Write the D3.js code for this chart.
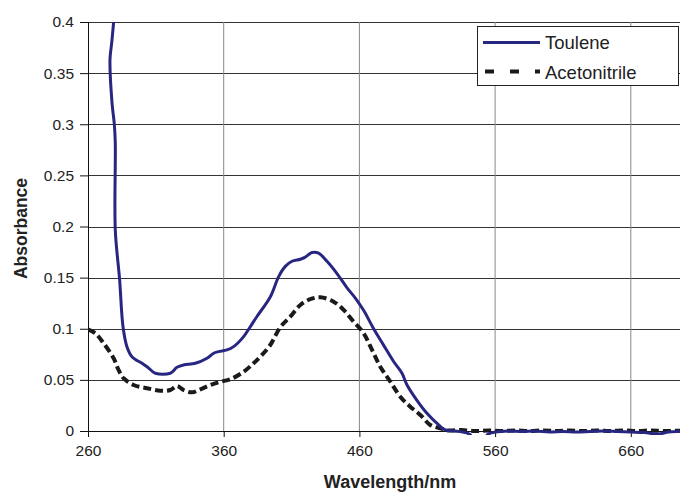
<!DOCTYPE html>
<html>
<head>
<meta charset="utf-8">
<script src="https://cdn.jsdelivr.net/npm/d3@7/dist/d3.min.js"></script>
<style>
  html, body { margin: 0; padding: 0; background: #fff; }
  svg { display: block; font-family: "Liberation Sans", Arial, sans-serif; }
</style>
</head>
<body>
<svg id="chart" width="680" height="493"></svg>
<script>
// Absorption spectra, wavelength (nm) vs absorbance
const seriesNames = ["Toulene", "Acetonitrile"];

const xTicks = [260, 360, 460, 560, 660];
const yTicks = [0, 0.05, 0.1, 0.15, 0.2, 0.25, 0.3, 0.35, 0.4];
const yTickLabels = ["0", "0.05", "0.1", "0.15", "0.2", "0.25", "0.3", "0.35", "0.4"];

const toluene = [
  [278.9, 0.400], [277.5, 0.380], [276.2, 0.363], [277.7, 0.321], [279.4, 0.300],
  [280.1, 0.282], [280.1, 0.197], [283.3, 0.148], [285.8, 0.102], [288.7, 0.0825],
  [292.4, 0.0727], [299.8, 0.0662], [303.5, 0.0629], [309.6, 0.0565], [320.6, 0.0565],
  [325.6, 0.0623], [330.4, 0.0646], [339.1, 0.0662], [347.7, 0.0711], [352.6, 0.0760],
  [356.2, 0.0776], [362.4, 0.0793], [367.3, 0.0825], [374.7, 0.0923], [379.6, 0.1020],
  [384.5, 0.1120], [394.3, 0.1310], [400.5, 0.1510], [405.4, 0.1610], [410.3, 0.1660],
  [416.5, 0.1680], [420.1, 0.1700], [425.1, 0.1745], [429.9, 0.1740], [436.1, 0.1660],
  [443.5, 0.1540], [450.9, 0.1400], [457.0, 0.1300], [463.1, 0.1180], [470.5, 0.1000],
  [477.8, 0.0840], [485.2, 0.0680], [491.4, 0.0565], [495.1, 0.0450], [502.4, 0.0300],
  [509.8, 0.0173], [518.4, 0.0059], [523.3, 0.0010], [530, 0.0000], [536, -0.0010],
  [541, -0.0030], [545, -0.0090], [550, -0.0100], [555, -0.0030], [560, -0.0010],
  [570, 0.0000], [580, -0.0005], [590, 0.0000], [600, -0.0010], [610, -0.0005],
  [620, -0.0010], [630, -0.0005], [640, 0.0000], [650, -0.0005], [660, -0.0010],
  [670, -0.0015], [680, -0.0030], [688, -0.0010], [700, 0.0000]
];

const acetonitrile = [
  [260, 0.0995], [265.4, 0.0956], [271.5, 0.0858], [278.9, 0.0711], [282.5, 0.0597],
  [286.2, 0.0516], [293.6, 0.0450], [303.5, 0.0418], [313.3, 0.0394], [320.6, 0.0401],
  [325.6, 0.0440], [330.4, 0.0401], [336.6, 0.0378], [342.8, 0.0408], [350.1, 0.0450],
  [357.5, 0.0482], [364.9, 0.0506], [374.7, 0.0580], [382.0, 0.0662], [387.0, 0.0727],
  [394.3, 0.0841], [401.7, 0.1015], [409.1, 0.1118], [416.5, 0.1233], [423.8, 0.1289],
  [431.2, 0.1308], [441.0, 0.1265], [448.4, 0.1184], [455.7, 0.1070], [463.1, 0.0956],
  [469.3, 0.0793], [475.4, 0.0629], [482.8, 0.0482], [490.1, 0.0336], [497.5, 0.0238],
  [504.9, 0.0157], [512.2, 0.0059], [519.6, 0.0026], [526, 0.0005], [535, 0.0010],
  [545, 0.0000], [555, 0.0005], [565, 0.0000], [575, 0.0005], [585, 0.0000],
  [595, 0.0005], [605, 0.0000], [615, 0.0005], [625, 0.0000], [635, 0.0005],
  [645, 0.0000], [655, 0.0005], [665, 0.0000], [675, 0.0005], [685, 0.0000], [700, 0.0005]
];

const svg = d3.select("#chart");
const plotLeft = 88, plotTop = 22, plotBottom = 431;

const x = d3.scaleLinear().domain([260, 700]).range([plotLeft, plotLeft + 440 * 1.357]);
const y = d3.scaleLinear().domain([0, 0.4]).range([plotBottom, plotTop]);
const plotRight = x.range()[1];

// plot area clip (a few px of slack below the baseline)
svg.append("defs").append("clipPath").attr("id", "plotClip")
  .append("rect").attr("x", plotLeft).attr("y", plotTop)
  .attr("width", plotRight - plotLeft).attr("height", plotBottom - plotTop + 4);

// horizontal gridlines
svg.append("g").selectAll("line").data(yTicks.slice(1)).join("line")
  .attr("x1", plotLeft).attr("x2", plotRight)
  .attr("y1", d => Math.round(y(d)) + 0.5).attr("y2", d => Math.round(y(d)) + 0.5)
  .attr("stroke", "#333").attr("stroke-width", 1);

// vertical gridlines
svg.append("g").selectAll("line").data(xTicks.slice(1)).join("line")
  .attr("x1", d => x(d)).attr("x2", d => x(d))
  .attr("y1", plotTop).attr("y2", plotBottom)
  .attr("stroke", "#888").attr("stroke-width", 1);

// y axis
const yAxis = d3.axisLeft(y).tickValues(yTicks).tickSize(8).tickPadding(6)
  .tickFormat((d, i) => yTickLabels[i]);
const gy = svg.append("g").attr("transform", `translate(${plotLeft},0)`).call(yAxis);
gy.select(".domain").attr("stroke", "#111").attr("d", `M0.5,${plotTop}V${plotBottom}`);
gy.selectAll(".tick line").attr("stroke", "#111");
gy.selectAll(".tick text").attr("font-size", "15.5px").attr("fill", "#222")
  .attr("font-family", "Liberation Sans, Arial, sans-serif");

// x axis
const xAxis = d3.axisBottom(x).tickValues(xTicks).tickSize(6).tickPadding(8).tickFormat(d3.format("d"));
const gx = svg.append("g").attr("transform", `translate(0,${plotBottom})`).call(xAxis);
gx.select(".domain").attr("stroke", "#111").attr("d", `M${plotLeft},0.5H${plotRight}`);
gx.selectAll(".tick line").attr("stroke", "#111");
gx.selectAll(".tick text").attr("font-size", "15.5px").attr("fill", "#222")
  .attr("font-family", "Liberation Sans, Arial, sans-serif");

// spectra
const line = d3.line().x(d => x(d[0])).y(d => y(d[1])).curve(d3.curveCatmullRom.alpha(0.5));
const plot = svg.append("g").attr("clip-path", "url(#plotClip)");

plot.append("path").datum(acetonitrile)
  .attr("d", line).attr("fill", "none")
  .attr("stroke", "#1a1a1a").attr("stroke-width", 4)
  .attr("stroke-dasharray", "8,4");

plot.append("path").datum(toluene)
  .attr("d", line).attr("fill", "none")
  .attr("stroke", "#272781").attr("stroke-width", 3)
  .attr("stroke-linejoin", "round");

// axis titles
svg.append("text")
  .attr("transform", `translate(27,${(plotTop + plotBottom) / 2 + 2}) rotate(-90)`)
  .attr("text-anchor", "middle").attr("font-weight", "bold").attr("font-size", "17.5px")
  .attr("fill", "#222").text("Absorbance");

svg.append("text")
  .attr("x", 390).attr("y", 488)
  .attr("text-anchor", "middle").attr("font-weight", "bold").attr("font-size", "18px")
  .attr("fill", "#222").text("Wavelength/nm");

// legend
const legend = svg.append("g");
legend.append("rect").attr("x", 477.5).attr("y", 26.5).attr("width", 201).attr("height", 59)
  .attr("fill", "#fff").attr("stroke", "#222").attr("stroke-width", 1);

legend.append("line").attr("x1", 483).attr("x2", 540).attr("y1", 42.5).attr("y2", 42.5)
  .attr("stroke", "#272781").attr("stroke-width", 3);
legend.append("line").attr("x1", 485).attr("x2", 540).attr("y1", 71.5).attr("y2", 71.5)
  .attr("stroke", "#1a1a1a").attr("stroke-width", 4).attr("stroke-dasharray", "9,16");

legend.selectAll("text").data(seriesNames).join("text")
  .attr("x", 545).attr("y", (d, i) => 49 + i * 29.5)
  .attr("font-size", "18.5px").attr("fill", "#222").text(d => d);
</script>
</body>
</html>
